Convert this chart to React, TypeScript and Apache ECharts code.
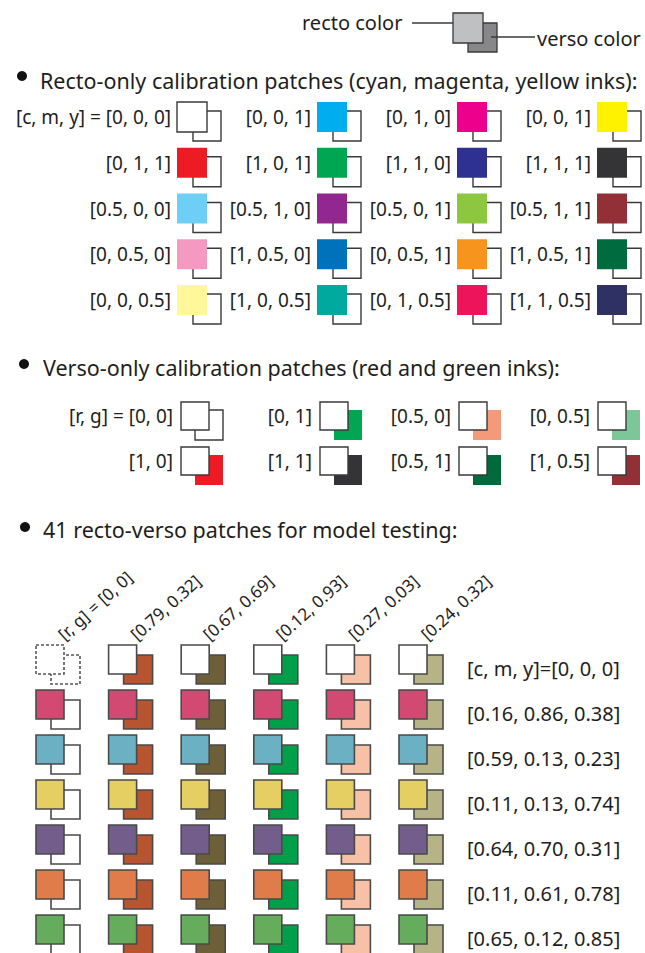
import React, { useEffect, useRef } from "react";
import * as echarts from "echarts";

const FONT = "'Noto Sans', sans-serif";
const INK = "#3a3a3a";
const TXT = "#1e1e1e";

// ---------- top legend ----------
const legendLabels = ["recto color", "verso color"];
const legendColors = ["#bfc0c2", "#87878a"];

// ---------- headings ----------
const headings = [
  "Recto-only calibration patches (cyan, magenta, yellow inks):",
  "Verso-only calibration patches (red and green inks):",
  "41 recto-verso patches for model testing:",
];

// ---------- recto-only calibration (c, m, y) ----------
const rectoCalLabels = [
  ["[c, m, y] = [0, 0, 0]", "[0, 0, 1]", "[0, 1, 0]", "[0, 0, 1]"],
  ["[0, 1, 1]", "[1, 0, 1]", "[1, 1, 0]", "[1, 1, 1]"],
  ["[0.5, 0, 0]", "[0.5, 1, 0]", "[0.5, 0, 1]", "[0.5, 1, 1]"],
  ["[0, 0.5, 0]", "[1, 0.5, 0]", "[0, 0.5, 1]", "[1, 0.5, 1]"],
  ["[0, 0, 0.5]", "[1, 0, 0.5]", "[0, 1, 0.5]", "[1, 1, 0.5]"],
];
const rectoCalColors = [
  ["#ffffff", "#00aeef", "#ec008c", "#fff200"],
  ["#ed1c24", "#00a651", "#2e3192", "#343436"],
  ["#6dcff6", "#92278f", "#8dc63f", "#932f37"],
  ["#f49ac1", "#0072bc", "#f7941d", "#006b3f"],
  ["#fff799", "#00a99d", "#ed145b", "#2f3162"],
];

// ---------- verso-only calibration (r, g) ----------
const versoCalLabels = [
  ["[r, g] = [0, 0]", "[0, 1]", "[0.5, 0]", "[0, 0.5]"],
  ["[1, 0]", "[1, 1]", "[0.5, 1]", "[1, 0.5]"],
];
const versoCalColors = [
  ["#ffffff", "#00a651", "#f49a7b", "#7dc698"],
  ["#ed1c24", "#343436", "#00693e", "#932f37"],
];

// ---------- recto-verso test patches ----------
const testVersoLabels = [
  "[r, g] = [0, 0]",
  "[0.79, 0.32]",
  "[0.67, 0.69]",
  "[0.12, 0.93]",
  "[0.27, 0.03]",
  "[0.24, 0.32]",
];
const testVersoColors = ["#ffffff", "#b65530", "#6d5f38", "#00a04a", "#f6c1a7", "#b6b487"];
const testRectoLabels = [
  "[c, m, y]=[0, 0, 0]",
  "[0.16, 0.86, 0.38]",
  "[0.59, 0.13, 0.23]",
  "[0.11, 0.13, 0.74]",
  "[0.64, 0.70, 0.31]",
  "[0.11, 0.61, 0.78]",
  "[0.65, 0.12, 0.85]",
];
const testRectoColors = ["#ffffff", "#d24a72", "#6cb1c3", "#e6cf62", "#735e8b", "#e07b4a", "#65ad5d"];

function gridCells(rows: number, cols: number) {
  const out: number[][] = [];
  for (let r = 0; r < rows; r++) for (let c = 0; c < cols; c++) out.push([c, r]);
  return out;
}

function txt(
  x: number,
  y: number,
  text: string,
  size: number,
  align: string,
  extra: any = {},
  vAlign = "middle"
) {
  return {
    type: "text",
    x,
    y,
    ...extra,
    style: {
      text,
      fill: TXT,
      fontSize: size,
      fontFamily: FONT,
      align,
      textAlign: align,
      verticalAlign: vAlign,
      textVerticalAlign: vAlign,
    },
  };
}

export default function App() {
  const ref = useRef<HTMLDivElement>(null);
  useEffect(() => {
    if (!ref.current) return;
    const chart = echarts.init(ref.current, null, { renderer: "svg" });

    const hiddenAxis = (gridIndex: number, max: number, inverse = false) => ({
      type: "value",
      gridIndex,
      min: 0,
      max,
      inverse,
      show: false,
    });

    const rectoCalSeries = {
      type: "custom",
      xAxisIndex: 0,
      yAxisIndex: 0,
      clip: false,
      encode: { x: 0, y: 1 },
      data: gridCells(5, 4),
      renderItem: (params: any, api: any) => {
        const c = api.value(0);
        const r = api.value(1);
        const [x, y] = api.coord([c, r]);
        const col = rectoCalColors[r][c];
        const white = col === "#ffffff";
        return {
          type: "group",
          children: [
            {
              type: "rect",
              shape: { x: x + 16, y: y + 9, width: 28, height: 30 },
              style: { fill: "#ffffff", stroke: INK, lineWidth: 1.4 },
            },
            {
              type: "rect",
              shape: { x, y, width: 30, height: 30 },
              style: { fill: col, stroke: white ? INK : col, lineWidth: white ? 1.4 : 0 },
            },
            txt(x - 6, y + 15, rectoCalLabels[r][c], 19, "right"),
          ],
        };
      },
    };

    const versoCalSeries = {
      type: "custom",
      xAxisIndex: 1,
      yAxisIndex: 1,
      clip: false,
      encode: { x: 0, y: 1 },
      data: gridCells(2, 4),
      renderItem: (params: any, api: any) => {
        const c = api.value(0);
        const r = api.value(1);
        const [x, y] = api.coord([c, r]);
        const col = versoCalColors[r][c];
        const white = col === "#ffffff";
        return {
          type: "group",
          children: [
            {
              type: "rect",
              shape: { x: x + 14, y: y + 8, width: 28, height: 30 },
              style: { fill: col, stroke: white ? INK : col, lineWidth: white ? 1.4 : 0 },
            },
            {
              type: "rect",
              shape: { x, y, width: 28, height: 28 },
              style: { fill: "#ffffff", stroke: INK, lineWidth: 1.4 },
            },
            txt(x - 8, y + 14, versoCalLabels[r][c], 19, "right"),
          ],
        };
      },
    };

    const testSeries = {
      type: "custom",
      xAxisIndex: 2,
      yAxisIndex: 2,
      clip: false,
      encode: { x: 0, y: 1 },
      data: gridCells(7, 6),
      renderItem: (params: any, api: any) => {
        const c = api.value(0);
        const r = api.value(1);
        const [x, y] = api.coord([c, r]);
        const dashed = r === 0 && c === 0;
        const line = dashed ? [3, 2] : null;
        const stroke = dashed ? "#555555" : "#4a4a4a";
        const children: any[] = [
          {
            type: "rect",
            shape: { x: x + 15, y: y + 10, width: 29, height: 29 },
            style: { fill: testVersoColors[c], stroke, lineWidth: 1.6, lineDash: line },
          },
          {
            type: "rect",
            shape: { x, y, width: 28, height: 29 },
            style: { fill: testRectoColors[r], stroke, lineWidth: 1.6, lineDash: line },
          },
        ];
        if (r === 0) {
          children.push(
            txt(
              x + 30,
              y - 2,
              testVersoLabels[c],
              17,
              "left",
              { rotation: (42 * Math.PI) / 180 },
              "bottom"
            )
          );
        }
        if (c === 5) {
          children.push(txt(x + 68, y + 23, testRectoLabels[r], 20, "left"));
        }
        return { type: "group", children };
      },
    };

    const graphic: any[] = [
      // legend
      txt(302, 22, legendLabels[0], 20, "left"),
      txt(537, 38, legendLabels[1], 20, "left"),
      {
        type: "line",
        shape: { x1: 412, y1: 23, x2: 456, y2: 23 },
        style: { stroke: INK, lineWidth: 1.3 },
      },
      {
        type: "rect",
        shape: { x: 468, y: 23, width: 29, height: 29 },
        style: { fill: legendColors[1], stroke: INK, lineWidth: 1.3 },
      },
      {
        type: "rect",
        shape: { x: 453, y: 13, width: 30, height: 30 },
        style: { fill: legendColors[0], stroke: INK, lineWidth: 1.3 },
      },
      {
        type: "line",
        shape: { x1: 491, y1: 37, x2: 535, y2: 37 },
        style: { stroke: INK, lineWidth: 1.3 },
      },
    ];
    const headPos = [
      [22, 76, 40, 80],
      [24, 364, 43, 367],
      [25, 527, 43, 529],
    ];
    headings.forEach((h, i) => {
      const [bx, by, tx, ty] = headPos[i];
      graphic.push({
        type: "circle",
        shape: { cx: bx, cy: by, r: 5 },
        style: { fill: "#111111" },
      });
      graphic.push(txt(tx, ty, h, 21.5, "left"));
    });

    chart.setOption({
      animation: false,
      backgroundColor: "#ffffff",
      grid: [
        { left: 177, top: 102, width: 420, height: 183 },
        { left: 181, top: 402, width: 417, height: 45 },
        { left: 36, top: 645, width: 363, height: 270 },
      ],
      xAxis: [hiddenAxis(0, 3), hiddenAxis(1, 3), hiddenAxis(2, 5)],
      yAxis: [hiddenAxis(0, 4, true), hiddenAxis(1, 1, true), hiddenAxis(2, 6, true)],
      graphic,
      series: [rectoCalSeries, versoCalSeries, testSeries],
    });
    return () => chart.dispose();
  }, []);
  return (
    <div
      ref={ref}
      style={{ position: "absolute", left: 0, top: 0, width: 645, height: 953, background: "#fff" }}
    />
  );
}
